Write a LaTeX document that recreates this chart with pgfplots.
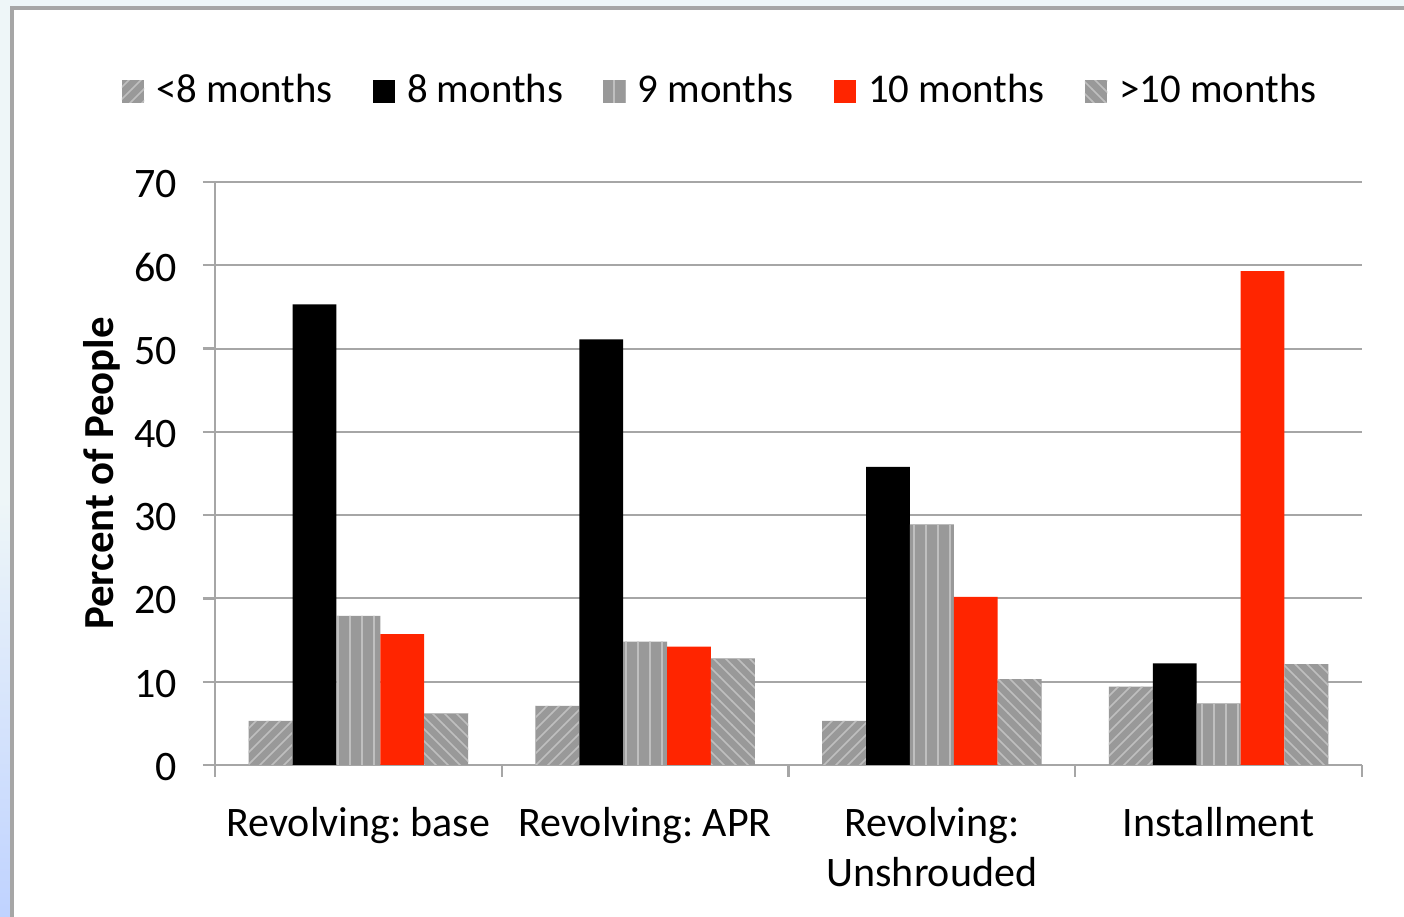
\documentclass[border=0pt]{standalone}
\usepackage{pgfplots}
\pgfplotsset{compat=1.18}
\usepackage{fontspec}
\setmainfont{Carlito}
\usetikzlibrary{patterns}
\definecolor{barred}{HTML}{FF2500}
\definecolor{gridgray}{HTML}{A6A6A6}
\definecolor{bgblue}{HTML}{EEF6F8}
\pgfplotstableread{
x lt8 m8 m9 m10 gt10
0 5.3 55.3 17.9 15.7 6.2
1 7.1 51.1 14.8 14.2 12.8
2 5.3 35.8 28.9 20.2 10.3
3 9.4 12.2 7.4 59.3 12.1
}\data
\begin{document}
\frenchspacing
\begin{tikzpicture}
\begin{scope}[x=0.25pt,y=-0.25pt]
\useasboundingbox (0,0) rectangle (1404,917);
\fill[bgblue] (0,0) rectangle (1404,917);
\shade[top color=bgblue, bottom color=cyan!30!blue!25] (0,500) rectangle (12,917);
\filldraw[fill=white, draw=gridgray, line width=0.8pt] (12,8) rectangle (1430,940);
\end{scope}
\begin{axis}[
  at={(53.75pt,-191.25pt)}, anchor=south west,
  scale only axis, width=286.75pt, height=145.75pt,
  ymin=0, ymax=70, ytick={0,10,...,70},
  xmin=-0.5, xmax=3.5,
  xtick={0,1,2,3},
  xticklabels={Revolving: base, Revolving: APR, Revolving:\\Unshrouded, Installment},
  xticklabel style={align=center, font=\fontsize{10.5}{12.5}\selectfont, yshift=-4pt},
  minor xtick={-0.5,0.5,1.5,2.5,3.5},
  major x tick style={draw=none},
  minor tick length=3pt,
  major tick length=3pt,
  tick align=outside,
  tick style={gridgray, line width=0.6pt},
  axis x line*=bottom, axis y line*=left,
  axis line style={gridgray, line width=0.6pt, -},
  ymajorgrids, grid style={gridgray, line width=0.5pt},
  yticklabel style={font=\fontsize{10.5}{12}\selectfont, xshift=-3pt, yshift=-0.5pt},
  /pgf/number format/assume math mode=true,
  ylabel={\bfseries Percent of People},
  ylabel style={at={(axis description cs:-0.099,0.5)}, anchor=center, font=\fontsize{10.7}{12}\selectfont},
  bar width=0.153,
  legend columns=5,
  legend style={at={(axis description cs:0.443,1.155)}, anchor=center, draw=none, fill=none,
    font=\fontsize{10.2}{12}\selectfont,
    /tikz/every odd column/.append style={column sep=1pt},
    /tikz/every even column/.append style={column sep=8pt}},
  legend image code/.code={\path[#1] (0pt,-2.8pt) rectangle (5.6pt,2.8pt);},
]
\addplot[ybar, bar shift=-0.306, draw=none, fill=black!40, postaction={pattern=north east lines, pattern color=white!75!black}] table[x=x,y=lt8] {\data};
\addlegendentry{<8 months}
\addplot[ybar, bar shift=-0.153, draw=none, fill=black] table[x=x,y=m8] {\data};
\addlegendentry{8 months}
\addplot[ybar, bar shift=0, draw=none, fill=black!40, postaction={pattern=vertical lines, pattern color=white!75!black}] table[x=x,y=m9] {\data};
\addlegendentry{9 months}
\addplot[ybar, bar shift=0.153, draw=none, fill=barred] table[x=x,y=m10] {\data};
\addlegendentry{10 months}
\addplot[ybar, bar shift=0.306, draw=none, fill=black!40, postaction={pattern=north west lines, pattern color=white!75!black}] table[x=x,y=gt10] {\data};
\addlegendentry{>10 months}
\end{axis}
\end{tikzpicture}
\end{document}
